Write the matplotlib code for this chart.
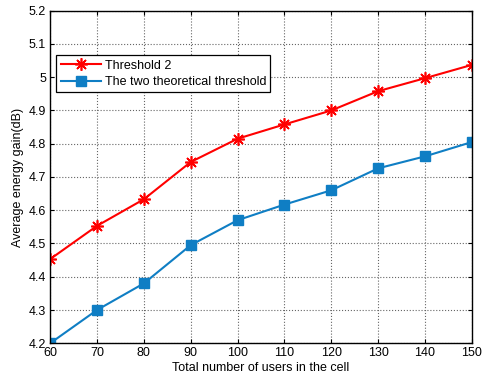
import numpy as np
import matplotlib.pyplot as plt

plt.rcParams['font.family'] = ['Liberation Sans', 'DejaVu Sans']

users = [60, 70, 80, 90, 100, 110, 120, 130, 140, 150]
thr2 = [4.453, 4.553, 4.633, 4.745, 4.815, 4.858, 4.900, 4.958, 4.997, 5.037]
two_thr = [4.200, 4.300, 4.380, 4.495, 4.570, 4.617, 4.660, 4.726, 4.762, 4.805]

fig = plt.figure(figsize=(4.82, 3.81), dpi=100)
axe = fig.add_axes([0.104, 0.099, 0.875, 0.873])

axe.plot(users, thr2, '-', marker=(8, 2, 0), c='#ff0000', lw=1.5, ms=9, mew=1.2, label='Threshold 2')
axe.plot(users, two_thr, 's-', c='#0f7ec4', lw=1.5, ms=7.5, label='The two theoretical threshold')

axe.set_xlim(60, 150)
axe.set_ylim(4.2, 5.2)
axe.set_xticks(users)
axe.set_yticks(np.arange(4.2, 5.21, 0.1))
axe.set_yticklabels(['4.2', '4.3', '4.4', '4.5', '4.6', '4.7', '4.8', '4.9', '5', '5.1', '5.2'])
axe.tick_params(direction='in', labelsize=9, length=3, top=True, right=True, pad=3)
axe.grid(True, ls=':', c='#666666', lw=0.8)
for s in axe.spines.values():
    s.set_linewidth(1.0)

axe.set_xlabel('Total number of users in the cell', fontsize=9, labelpad=2)
axe.set_ylabel('Average energy gain(dB)', fontsize=9, labelpad=3)

leg = axe.legend(loc='upper left', bbox_to_anchor=(0.0, 0.885), fontsize=9,
                 fancybox=False, framealpha=1, edgecolor='black',
                 handlelength=3.2, handletextpad=0.3, borderpad=0.35, labelspacing=0.35)
leg.get_frame().set_linewidth(0.9)

fig.savefig('out.png')
